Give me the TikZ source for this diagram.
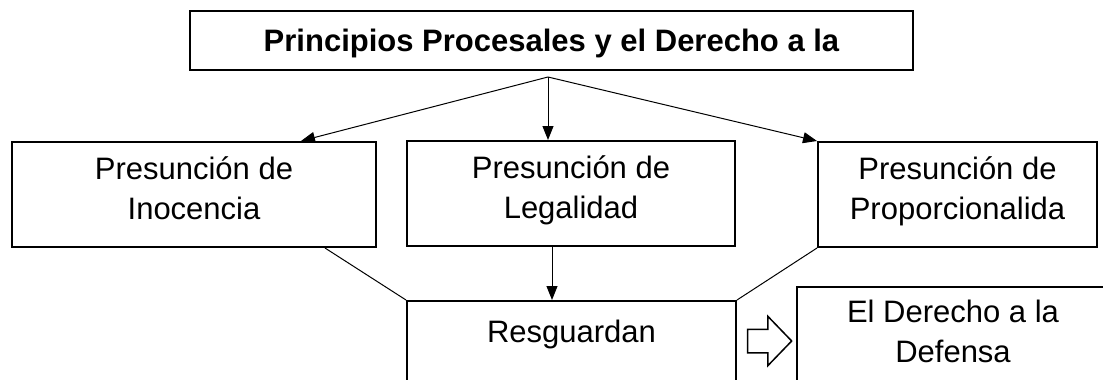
\documentclass[tikz,border=0pt]{standalone}
\usepackage{fontspec}
\setmainfont{Liberation Sans}
\usepackage{tikz}
\usetikzlibrary{arrows.meta,shapes.arrows}
\tikzset{caja/.style={draw,rectangle,line width=2pt,inner sep=0pt,
                      align=center,font=\fontsize{31}{40}\selectfont}}
\tikzset{texto/.style={caja,execute at begin node=\strut,
                       execute at end node=\strut}}
\tikzset{titulo/.style={caja,font=\bfseries\fontsize{31}{40}\selectfont,
                        text height=22pt,text depth=0pt}}
\tikzset{conector/.style={line width=1pt}}
\tikzset{flecha/.style={draw,single arrow,line width=1.5pt,
                        inner xsep=0pt,inner ysep=11pt,
                        minimum height=44pt,
                        single arrow head extend=13pt,
                        single arrow tip angle=92,single arrow head indent=0pt}}
\begin{document}
\begin{tikzpicture}[x=1pt,y=-1pt,>={Triangle[length=14pt,width=11pt]}]
    \useasboundingbox (0,0) rectangle (1103,380);
    \clip (0,0) rectangle (1103,380);
    % Draw title node
    \node[titulo, minimum width=723pt, minimum height=59pt] (principios) at (551.5,40.5)
        {Principios Procesales y el Derecho a la};
    % Draw the three principles
    \node[texto, minimum width=364pt, minimum height=105pt] (inocencia) at (194,194.5)
        {Presunción de\\Inocencia};
    \node[texto, minimum width=328pt, minimum height=105pt] (legalidad) at (571,193.5)
        {Presunción de\\Legalidad};
    \node[texto, minimum width=279pt, minimum height=105pt] (proporcion) at (957.5,194.5)
        {Presunción de\\Proporcionalida};
    % Bottom boxes run past the lower edge
    \node[caja, anchor=north, minimum width=329pt, inner ysep=13pt,
          text height=28pt, text depth=60pt] (resguardan) at (571.5,300) {Resguardan};
    \node[texto, anchor=north, minimum width=312pt, inner ysep=13pt] (defensa) at (953,286)
        {El Derecho a la\\Defensa};
    % Fork under the title
    \coordinate (horquilla) at (548,77);
    \draw[conector,->] (horquilla) -- ([xshift=-76pt]inocencia.north east);
    \draw[conector,->] (horquilla) -- (horquilla |- legalidad.north);
    \draw[conector,->] (horquilla) -- (proporcion.north west);
    % Edges down to Resguardan
    \draw[conector] ([xshift=-52pt]inocencia.south east) -- (resguardan.north west);
    \draw[conector] (proporcion.south west) -- (resguardan.north east);
    \draw[conector,->] ([xshift=-19pt]legalidad.south)
        -- ([xshift=-19pt]legalidad.south |- resguardan.north);
    % Hollow arrow towards the right box
    \node[flecha] (flecha) at (764,341) {};
\end{tikzpicture}
\end{document}
